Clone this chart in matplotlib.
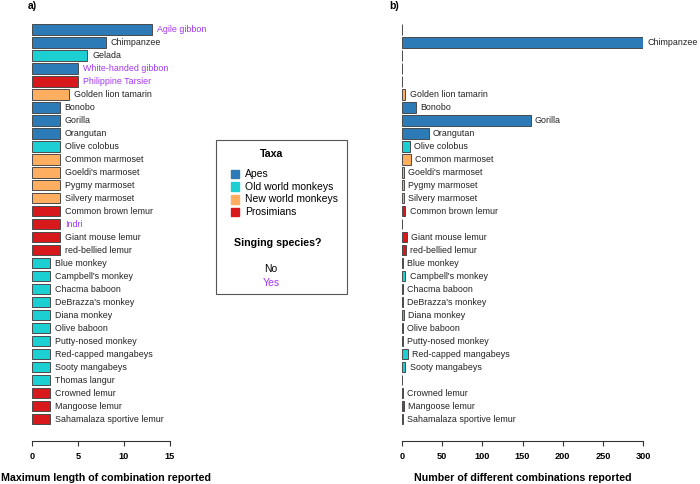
import matplotlib
matplotlib.use("Agg")
import matplotlib.pyplot as plt
from matplotlib.patches import Rectangle

plt.rcParams['font.family'] = ['Liberation Sans', 'DejaVu Sans']

species = ["Agile gibbon", "Chimpanzee", "Gelada", "White-handed gibbon", "Philippine Tarsier",
           "Golden lion tamarin", "Bonobo", "Gorilla", "Orangutan", "Olive colobus",
           "Common marmoset", "Goeldi's marmoset", "Pygmy marmoset", "Silvery marmoset",
           "Common brown lemur", "Indri", "Giant mouse lemur", "red-bellied lemur",
           "Blue monkey", "Campbell's monkey", "Chacma baboon", "DeBrazza's monkey",
           "Diana monkey", "Olive baboon", "Putty-nosed monkey", "Red-capped mangabeys",
           "Sooty mangabeys", "Thomas langur", "Crowned lemur", "Mangoose lemur",
           "Sahamalaza sportive lemur"]
taxa = ["Apes", "Apes", "Old", "Apes", "Pros",
        "New", "Apes", "Apes", "Apes", "Old",
        "New", "New", "New", "New",
        "Pros", "Pros", "Pros", "Pros",
        "Old", "Old", "Old", "Old",
        "Old", "Old", "Old", "Old",
        "Old", "Old", "Pros", "Pros",
        "Pros"]
singing = ["Agile gibbon", "White-handed gibbon", "Philippine Tarsier", "Indri"]
max_length = [13, 8, 6, 5, 5,
              4, 3, 3, 3, 3,
              3, 3, 3, 3,
              3, 3, 3, 3,
              2, 2, 2, 2,
              2, 2, 2, 2,
              2, 2, 2, 2,
              2]
n_combinations = [0, 300, 0, 0, 0,
                  4, 17, 160, 33, 10,
                  11, 2, 2, 2,
                  4, 0, 6, 5,
                  1, 4, 1, 1,
                  2, 1, 1, 7,
                  4, 0, 1, 2,
                  1]

taxa_colors = {"Apes": "#2C7BB6", "Old": "#1CCFD2", "New": "#FDAE61", "Pros": "#D7191C"}
taxa_names = {"Apes": "Apes", "Old": "Old world monkeys", "New": "New world monkeys",
              "Pros": "Prosimians"}
purple = "#A436F0"

W, H = 700, 484
n = len(species)
top_px, bot_px = 29.5, 419.0
step = (bot_px - top_px) / (n - 1)
ax_top = top_px - 0.6 * step
ax_bot = bot_px + 0.6 * step

fig = plt.figure(figsize=(7, 4.84), dpi=100)


def make_axes(x0_px, x1_px):
    return fig.add_axes([x0_px / W, (H - ax_bot) / H, (x1_px - x0_px) / W, (ax_bot - ax_top) / H])


def panel(ax, values, xmax, ticks, pad, hide_zero):
    rows = list(range(n))
    cols = [taxa_colors[t] for t in taxa]
    ax.barh(rows, values, height=0.8, color=cols, edgecolor="#4a4a4a", linewidth=0.7)
    for i, v in enumerate(values):
        if hide_zero and v == 0:
            continue
        c = purple if (species[i] in singing and not hide_zero) else "#222222"
        ax.text(v + pad, i, species[i], va="center", ha="left", fontsize=6.4, color=c,
                clip_on=False)
    ax.set_xlim(0, xmax)
    ax.set_ylim(n - 0.4, -0.6)
    for s in ["top", "right", "left"]:
        ax.spines[s].set_visible(False)
    ax.spines["bottom"].set_position(("outward", 10))
    ax.spines["bottom"].set_bounds(0, xmax)
    ax.spines["bottom"].set_color("#333333")
    ax.set_yticks([])
    ax.set_xticks(ticks)
    ax.tick_params(axis="x", length=3.5, width=0.8, color="#333333", labelsize=6.6, pad=5)
    for lab in ax.get_xticklabels():
        lab.set_fontweight("bold")
    ax.patch.set_visible(False)


ax1 = make_axes(32, 170)
panel(ax1, max_length, 15, [0, 5, 10, 15], 0.55, False)
ax2 = make_axes(402, 643)
panel(ax2, n_combinations, 300, [0, 50, 100, 150, 200, 250, 300], 5.5, True)

fig.text(28 / W, 1 - 6 / H, "a)", fontsize=7.5, fontweight="bold", va="center", ha="left")
fig.text(389 / W, 1 - 6 / H, "b)", fontsize=7.5, fontweight="bold", va="center", ha="left")
fig.text(106 / W, 1 - 478 / H, "Maximum length of combination reported", fontsize=7.7,
         fontweight="bold", ha="center", va="center")
fig.text(523 / W, 1 - 478 / H, "Number of different combinations reported", fontsize=7.7,
         fontweight="bold", ha="center", va="center")

# legend box
fig.patches.append(Rectangle((216 / W, 1 - 294 / H), 131 / W, 154 / H, transform=fig.transFigure,
                             fill=False, edgecolor="#555555", linewidth=0.8))
fig.text(272 / W, 1 - 154 / H, "Taxa", fontsize=7.7, fontweight="bold", ha="center", va="center")
for k, key in enumerate(["Apes", "Old", "New", "Pros"]):
    yy = 174 + k * 12.7
    fig.patches.append(Rectangle((230.5 / W, 1 - (yy + 4.2) / H), 8.5 / W, 8.5 / H,
                                 transform=fig.transFigure, color=taxa_colors[key]))
    fig.text(245 / W, 1 - yy / H, taxa_names[key], fontsize=7.5, ha="left", va="center")
fig.text(278 / W, 1 - 243 / H, "Singing species?", fontsize=7.7, fontweight="bold",
         ha="center", va="center")
fig.text(271 / W, 1 - 269 / H, "No", fontsize=7.5, ha="center", va="center")
fig.text(271 / W, 1 - 283 / H, "Yes", fontsize=7.5, ha="center", va="center", color=purple)

fig.savefig("out.png", dpi=100)
